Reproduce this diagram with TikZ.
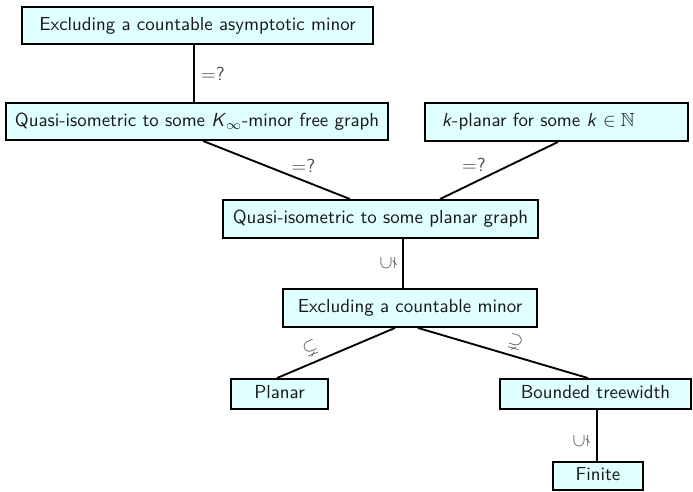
\documentclass[tikz,border=0pt]{standalone}
\usepackage{amssymb}
\definecolor{boxfill}{RGB}{224,255,255}
\newcommand\upx{0.53pt}
\begin{document}
\begin{tikzpicture}[x=0.53pt,y=-0.53pt,
  font=\sffamily,
  box/.style 2 args={draw=black, line width=1pt, fill=boxfill, text=black!90,
    inner sep=0pt, text height=7pt, text depth=2pt,
    minimum width=#1*0.53pt, minimum height=#2*0.53pt},
  link/.style={line width=1pt},
  rel/.style={text=black!70}]
\useasboundingbox (0,0) rectangle (693,491);

% classes of graphs
\node[box={351}{37}] (b1) at (197.5,25.5) {Excluding a countable asymptotic minor};
\node[box={382}{37}] (b2) at (197,121.5) {Quasi-isometric to some \textit{K}$_\infty$-minor free graph};
\node[box={263}{38}, align=left, text width=121.4pt, inner xsep=9pt] (b3) at (556.5,122)
  {\textit{k}-planar for some \textit{k} $\in\mathbb{N}$};
\node[box={315}{38}] (b4) at (380.5,219) {Quasi-isometric to some planar graph};
\node[box={254}{38}] (b5) at (410,308) {Excluding a countable minor};
\node[box={97}{30}] (pl) at (279.5,394) {Planar};
\node[box={191}{30}] (bt) at (595.5,394) {Bounded treewidth};
\node[box={90}{28}] (fi) at (598,476) {Finite};

% inclusions
\draw[link] ([xshift=-3.5*\upx]b1.south) -- node[rel,right]{$=$?} ([xshift=-3*\upx]b2.north);
\draw[link] ([xshift=6*\upx]b2.south) -- node[rel,midway,xshift=27*\upx,yshift=4.5*\upx]{$=$?} ([xshift=-30.5*\upx]b4.north);
\draw[link] ([xshift=1.5*\upx]b3.south) -- node[rel,midway,xshift=-25*\upx,yshift=5.5*\upx]{$=$?} ([xshift=59.5*\upx]b4.north);
\draw[link] ([xshift=22.5*\upx]b4.south) -- node[rel,midway,xshift=-15*\upx,rotate=90]{$\subsetneq$} ([xshift=-7*\upx]b5.north);
\draw[link] ([xshift=-15*\upx]b5.south) -- node[rel,pos=0.67,sloped,above]{$\subsetneq$} ([xshift=-2.5*\upx]pl.north);
\draw[link] ([xshift=8*\upx]b5.south) -- node[rel,pos=0.55,sloped,above]{$\supsetneq$} ([xshift=-7.5*\upx]bt.north);
\draw[link] ([xshift=1.5*\upx]bt.south) -- node[rel,midway,xshift=-16*\upx,yshift=-5.5*\upx,rotate=90]{$\subsetneq$} ([xshift=-1*\upx]fi.north);
\end{tikzpicture}
\end{document}
